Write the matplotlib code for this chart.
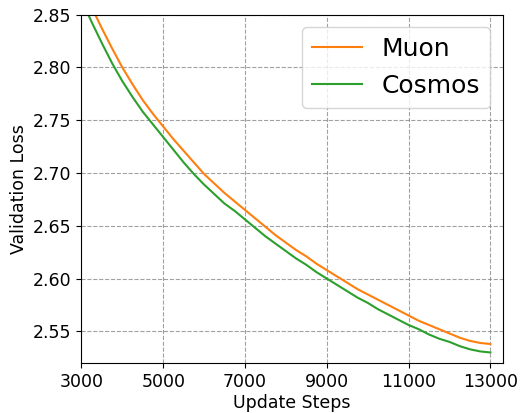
import matplotlib
matplotlib.use("Agg")
import matplotlib.pyplot as plt

steps = list(range(3000, 13001, 250))
muon_loss = [2.879, 2.857, 2.837, 2.818, 2.800, 2.784, 2.769, 2.756, 2.744,
             2.732, 2.721, 2.710, 2.699, 2.690, 2.681, 2.673, 2.665, 2.657,
             2.649, 2.641, 2.634, 2.627, 2.621, 2.614, 2.608, 2.602, 2.596,
             2.590, 2.585, 2.580, 2.575, 2.570, 2.565, 2.560, 2.556, 2.552,
             2.548, 2.544, 2.541, 2.539, 2.538]
cosmos_loss = [2.864, 2.843, 2.823, 2.804, 2.787, 2.772, 2.758, 2.746, 2.734,
               2.722, 2.710, 2.699, 2.689, 2.680, 2.671, 2.664, 2.656, 2.648,
               2.640, 2.633, 2.626, 2.619, 2.613, 2.606, 2.600, 2.594, 2.588,
               2.582, 2.577, 2.571, 2.566, 2.561, 2.556, 2.552, 2.547, 2.543,
               2.540, 2.536, 2.533, 2.531, 2.530]
x_ticks = [3000, 5000, 7000, 9000, 11000, 13000]
y_ticks = [2.55, 2.60, 2.65, 2.70, 2.75, 2.80, 2.85]

fig = plt.figure(figsize=(5.22, 4.13), dpi=100)
ax = fig.add_axes([0.156, 0.121, 0.807, 0.8435])

ax.plot(steps, muon_loss, color="tab:orange", lw=1.5, label="Muon")
ax.plot(steps, cosmos_loss, color="tab:green", lw=1.5, label="Cosmos")

ax.set_xlim(3000, 13300)
ax.set_ylim(2.52, 2.85)
ax.set_xticks(x_ticks)
ax.set_yticks(y_ticks)
ax.set_yticklabels([f"{v:.2f}" for v in y_ticks])
ax.tick_params(labelsize=12.5)
ax.grid(True, linestyle="--", color="gray", linewidth=0.8, alpha=0.75)
ax.set_xlabel("Update Steps", fontsize=12.5, labelpad=2)
ax.set_ylabel("Validation Loss", fontsize=12.5)
ax.legend(loc="upper right", fontsize=18)

fig.savefig("out.png", dpi=100)
